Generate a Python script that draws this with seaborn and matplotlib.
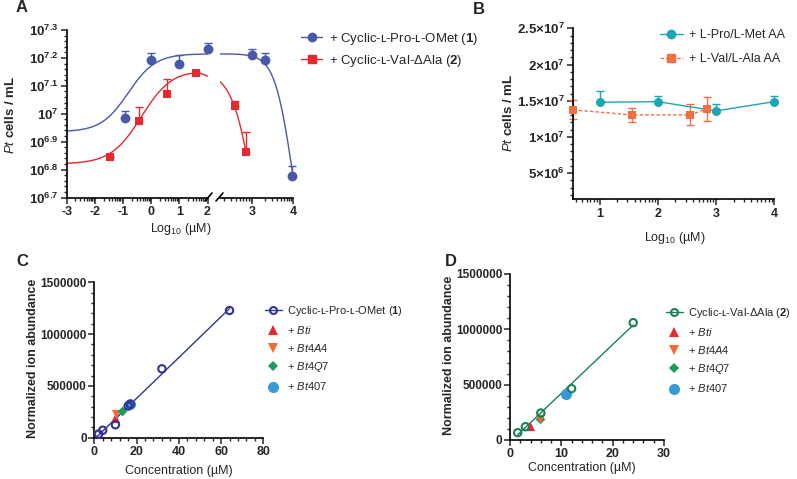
import numpy as np
import pandas as pd
import matplotlib
matplotlib.use('Agg')
import matplotlib.pyplot as plt
from matplotlib.lines import Line2D
from matplotlib.ticker import FixedLocator, NullFormatter
import seaborn as sns

sns.set_style('ticks')
plt.rcParams['font.family'] = ['Liberation Sans', 'DejaVu Sans']
plt.rcParams['mathtext.fontset'] = 'custom'
plt.rcParams['mathtext.rm'] = 'Liberation Sans'
plt.rcParams['mathtext.it'] = 'Liberation Sans:italic'
plt.rcParams['mathtext.bf'] = 'Liberation Sans:bold'
plt.rcParams['axes.linewidth'] = 1.2
plt.rcParams['axes.edgecolor'] = 'black'

# ---------------- data ----------------
# A: log10 concentration (uM) vs log10(Pt cells / mL), upper SD in log units
a1_x = [-0.95, 0.0, 1.0, 2.0, 3.0, 3.31, 3.97]
a1_y = [6.985, 7.193, 7.177, 7.232, 7.209, 7.193, 6.777]
a1_err = [0.025, 0.026, 0.033, 0.020, 0.022, 0.024, 0.036]
a2_x = [-1.46, -0.44, 0.56, 1.58, 2.56, 2.85]
a2_y = [6.844, 6.975, 7.070, 7.145, 7.027, 6.862]
a2_err = [0.004, 0.048, 0.053, 0.004, 0.020, 0.072]
# bell-shaped fits (bottom, top, logEC50 up, hill up, floor, logEC50 down, hill down)
a1_fit = (6.935, 7.215, -0.82, 0.9, 6.4, 3.97, 2.0)
a2_fit = (6.82, 7.16, -0.35, 0.8, 6.0, 3.15, 1.5)
a1_label = '+ Cyclic-ʟ-Pro-ʟ-OMet ($\\mathbf{1}$)'
a2_label = '+ Cyclic-ʟ-Val-ΔAla ($\\mathbf{2}$)'

# B: amino acid controls
b1_x = [1.0, 2.0, 3.0, 4.0]
b1_y = [1.479e7, 1.488e7, 1.36e7, 1.488e7]
b1_err = [1.6e6, 0.83e6, 0.92e6, 0.83e6]
b2_x = [0.55, 1.55, 2.55, 2.85]
b2_y = [1.374e7, 1.305e7, 1.305e7, 1.387e7]
b2_err = [1.3e6, 1.0e6, 1.45e6, 1.65e6]
b_labels = ['+ L-Pro/L-Met AA', '+ L-Val/L-Ala AA']

# C: standard curve compound 1 and culture samples
c_std_x = [2, 4, 10, 16, 17, 32, 64]
c_std_y = [35000, 72000, 125000, 305000, 322000, 665000, 1228000]
c_smp_x = [10.0, 10.5, 13.0, 17.0]
c_smp_y = [190000, 230000, 255000, 325000]
c_std_label = 'Cyclic-ʟ-Pro-ʟ-OMet ($\\mathbf{1}$)'

# D: standard curve compound 2 and culture samples
d_std_x = [1.5, 3, 6, 12, 24]
d_std_y = [66000, 120000, 244000, 464000, 1060000]
d_smp_x = [3.9, 5.8, 5.8, 11.0]
d_smp_y = [125000, 190000, 190000, 420000]
d_std_label = 'Cyclic-ʟ-Val-ΔAla ($\\mathbf{2}$)'

smp_labels = ['+ $\\mathit{Bti}$', '+ $\\mathit{Bt4A4}$', '+ $\\mathit{Bt4Q7}$', '+ $\\mathit{Bt407}$']
smp_markers = ['^', 'v', 'D', 'o']
smp_sizes = [44, 44, 24, 64]
smp_colors = ['#e8282f', '#f06b38', '#1b9a5c', '#3a9ad8']

blue_a = '#4a58a8'
red_a = '#e8282f'
cyan_b = '#1ea5b4'
orange_b = '#f07043'
navy_c = '#2f3593'
green_d = '#1d7f56'

W, H = 797, 479
fig = plt.figure(figsize=(W / 100, H / 100), dpi=100)


def rect(x0, y0, x1, y1):
    return [x0 / W, 1 - y1 / H, (x1 - x0) / W, (y1 - y0) / H]


def ftext(px, py, s, **kw):
    fig.text(px / W, 1 - py / H, s, **kw)


def bell(x, p):
    b, t, e1, h1, f, e2, h2 = p
    return b + (t - b) / (1 + 10 ** ((e1 - x) * h1)) + (f - t) / (1 + 10 ** ((e2 - x) * h2))


def log_minor(lo, hi):
    out = []
    for d in range(int(np.floor(lo)), int(np.ceil(hi)) + 1):
        for k in range(2, 10):
            v = d + np.log10(k)
            if lo <= v <= hi:
                out.append(v)
    return out


def style(ax, xsize=8.5, ysize=8.5):
    ax.tick_params(which='major', length=4, width=1.1, pad=2)
    ax.tick_params(axis='x', labelsize=xsize)
    ax.tick_params(axis='y', labelsize=ysize)
    ax.tick_params(which='minor', length=2.5, width=1.0)
    for lab in ax.get_xticklabels() + ax.get_yticklabels():
        lab.set_fontweight('bold')


# ---------------- panel A (broken x axis) ----------------
axL = fig.add_axes(rect(67, 30, 207.5, 197.5))
axR = fig.add_axes(rect(220, 30, 293, 197.5), sharey=axL)
for ax, lo, hi in [(axL, -3, 2), (axR, 2.2, 4)]:
    ax.set_yscale('log')
    ax.set_xlim(lo, hi)
    sns.despine(ax=ax)
    for xs, ys, es, fit, col, mk, s, xmax in [
        (a1_x, a1_y, a1_err, a1_fit, blue_a, 'o', 50, 4.0),
        (a2_x, a2_y, a2_err, a2_fit, red_a, 's', 40, 2.85)]:
        xg = np.linspace(lo, min(hi, xmax), 200)
        if xg[-1] > xg[0]:
            ax.plot(xg, 10 ** bell(xg, fit), color=col, lw=1.0, zorder=2)
        sel = [i for i in range(len(xs)) if lo - 0.05 <= xs[i] <= hi + 0.05]
        px = np.array([xs[i] for i in sel])
        py = np.array([ys[i] for i in sel])
        pe = np.array([es[i] for i in sel])
        up = 10 ** (py + pe) - 10 ** py
        ax.errorbar(px, 10 ** py, yerr=[np.zeros_like(up), up], fmt='none',
                    ecolor=col, elinewidth=1, capsize=3, capthick=1, clip_on=False, zorder=3)
        sns.scatterplot(x=px, y=10 ** py, ax=ax, marker=mk, s=s, color=col,
                        edgecolor=col, linewidth=0, clip_on=False, zorder=4)
axL.set_ylim(10 ** 6.7, 10 ** 7.3)
a_major = [6.7, 6.8, 6.9, 7.0, 7.1, 7.2, 7.3]
axL.yaxis.set_major_locator(FixedLocator([10 ** v for v in a_major]))
axL.set_yticklabels(['$\\mathbf{10^{%s}}$' % ('7' if v == 7.0 else '%.1f' % v) for v in a_major])
axL.yaxis.set_minor_locator(FixedLocator([10 ** (6.7 + 0.02 * k) for k in range(31)]))
axL.yaxis.set_minor_formatter(NullFormatter())
axL.set_xticks([-3, -2, -1, 0, 1, 2])
axL.set_xticklabels(['-3', '-2', '-1', '0', '1', '2'])
axL.xaxis.set_minor_locator(FixedLocator(log_minor(-3, 2)))
axR.set_xticks([3, 4])
axR.set_xticklabels(['3', '4'])
axR.xaxis.set_minor_locator(FixedLocator(log_minor(2.2, 4)))
axR.spines['left'].set_visible(False)
axR.tick_params(axis='y', which='both', left=False, labelleft=False)
style(axL, 9, 9.5)
style(axR, 9, 9.5)
for x0 in (205, 216):
    fig.add_artist(Line2D([x0 / W, (x0 + 7) / W], [1 - 201 / H, 1 - 193 / H],
                          transform=fig.transFigure, color='black', lw=1.2))
ftext(11, 115, '$\\mathit{Pt}$ cells / mL', rotation=90, ha='center', va='center',
      fontsize=9.5, fontweight='bold')
ftext(181, 229, 'Log$_{10}$ (µM)', ha='center', va='center', fontsize=9)
a_handles = [Line2D([], [], color=blue_a, marker='o', ms=6, lw=1),
             Line2D([], [], color=red_a, marker='s', ms=5.5, lw=1)]
fig.legend(a_handles, [a1_label, a2_label], loc='upper left',
           bbox_to_anchor=(301 / W, 1 - 31 / H), frameon=False, fontsize=9.5,
           handlelength=1.6, handletextpad=0.5, labelspacing=0.45,
           borderpad=0, borderaxespad=0)

# ---------------- panel B ----------------
axB = fig.add_axes(rect(573.3, 28.3, 774.3, 199.3))
sns.despine(ax=axB)
sns.lineplot(x=b1_x, y=b1_y, ax=axB, color=cyan_b, lw=1, marker='o', ms=6.5,
             mec=cyan_b, mew=0, clip_on=False, zorder=3)
axB.errorbar(b1_x, b1_y, yerr=[np.zeros(len(b1_err)), b1_err], fmt='none', ecolor=cyan_b,
             elinewidth=1, capsize=3, capthick=1, clip_on=False)
sns.lineplot(x=b2_x, y=b2_y, ax=axB, color=orange_b, lw=1, ls=(0, (2.5, 1.5)), marker='s',
             ms=6, mec=orange_b, mew=0, clip_on=False, zorder=4)
axB.errorbar(b2_x, b2_y, yerr=b2_err, fmt='none', ecolor=orange_b,
             elinewidth=1, capsize=3, capthick=1, clip_on=False)
axB.set_xlim(0.55, 4)
axB.set_ylim(1.4e6, 2.5e7)
axB.set_xticks([1, 2, 3, 4])
axB.set_xticklabels(['1', '2', '3', '4'])
axB.xaxis.set_minor_locator(FixedLocator(log_minor(0.55, 4)))
b_ticks = [5e6, 1e7, 1.5e7, 2e7, 2.5e7]
axB.set_yticks(b_ticks)
axB.set_yticklabels(['$\\mathbf{5{\\times}10^{6}}$', '$\\mathbf{1{\\times}10^{7}}$',
                     '$\\mathbf{1.5{\\times}10^{7}}$', '$\\mathbf{2{\\times}10^{7}}$',
                     '$\\mathbf{2.5{\\times}10^{7}}$'])
axB.yaxis.set_minor_locator(FixedLocator(np.arange(2e6, 2.5e7, 1e6)))
style(axB, 9, 9.5)
ftext(508, 113, '$\\mathit{Pt}$ cells / mL', rotation=90, ha='center', va='center',
      fontsize=9.5, fontweight='bold')
ftext(675, 238, 'Log$_{10}$ (µM)', ha='center', va='center', fontsize=9)
b_handles = [Line2D([], [], color=cyan_b, marker='o', ms=6, lw=1),
             Line2D([], [], color=orange_b, marker='s', ms=5.5, lw=1, ls=(0, (2.5, 1.5)))]
axB.legend(b_handles, b_labels, loc='upper left', bbox_to_anchor=(660 / W, 1 - 29 / H),
           bbox_transform=fig.transFigure, frameon=False, fontsize=9,
           handlelength=1.8, handletextpad=0.5, labelspacing=1.0,
           borderpad=0, borderaxespad=0)


# ---------------- panels C & D ----------------
def std_panel(box, sx, sy, smx, smy, col, xlim, xmaj, xmin_step, line_from, label,
              leg_anchor, ylab_px, xlab_px, smp_z):
    ax = fig.add_axes(rect(*box))
    sns.despine(ax=ax)
    slope, icpt = np.polyfit(sx, sy, 1)
    xl = np.array([line_from, max(sx)])
    sns.lineplot(x=xl, y=slope * xl + icpt, ax=ax, color=col, lw=1, zorder=2)
    for x, y, mk, s, c, z in zip(smx, smy, smp_markers, smp_sizes, smp_colors, smp_z):
        sns.scatterplot(x=[x], y=[y], ax=ax, marker=mk, s=s, color=c, edgecolor=c,
                        linewidth=0, zorder=z, clip_on=False)
    ax.scatter(sx, sy, s=28, facecolors='none', edgecolors=col, linewidths=1.5,
               zorder=5, clip_on=False)
    ax.set_xlim(*xlim)
    ax.set_ylim(0, 1500000)
    ax.set_xticks(xmaj)
    ax.set_xticklabels([str(v) for v in xmaj])
    ax.xaxis.set_minor_locator(FixedLocator(np.arange(0, xlim[1] + 0.1, xmin_step)))
    ax.set_yticks([0, 500000, 1000000, 1500000])
    ax.set_yticklabels(['0', '500000', '1000000', '1500000'])
    ax.yaxis.set_minor_locator(FixedLocator(np.arange(0, 1500001, 100000)))
    style(ax, 9, 8.5)
    ax.tick_params(axis='y', pad=1.5)
    ftext(ylab_px[0], ylab_px[1], 'Normalized ion abundance', rotation=90, ha='center',
          va='center', fontsize=9, fontweight='bold')
    ftext(xlab_px[0], xlab_px[1], 'Concentration (µM)', ha='center', va='center', fontsize=9)
    handles = [Line2D([], [], color=col, marker='o', mfc='none', mec=col, mew=1.5, ms=5, lw=1)]
    for mk, s, c in zip(smp_markers, smp_sizes, smp_colors):
        handles.append(Line2D([], [], ls='none', marker=mk, ms=np.sqrt(s), color=c, mew=0))
    ax.legend(handles, [label] + smp_labels, loc='upper left',
              bbox_to_anchor=(leg_anchor[0] / W, 1 - leg_anchor[1] / H),
              bbox_transform=fig.transFigure, frameon=False, fontsize=8,
              handlelength=1.5, handletextpad=0.5, labelspacing=0.55,
              borderpad=0, borderaxespad=0)
    return ax


std_panel((94.3, 282.3, 263.3, 437.7), c_std_x, c_std_y, c_smp_x, c_smp_y, navy_c,
          (0, 80), [0, 20, 40, 60, 80], 4, 0, c_std_label, (265, 304), (33, 358), (179, 471),
          [3, 3.1, 3.2, 3.3])
std_panel((510, 274, 664, 440), d_std_x, d_std_y, d_smp_x, d_smp_y, green_d,
          (0, 30), [0, 10, 20, 30], 2, 1.5, d_std_label, (666, 306), (449, 355), (582, 468),
          [3, 3.2, 3.1, 3.3])

# panel letters
for px, py, s in [(22, 8, 'A'), (479, 9, 'B'), (22, 262, 'C'), (451, 262, 'D')]:
    ftext(px, py, s, ha='center', va='center', fontsize=12, fontweight='bold')

fig.savefig('out.png', dpi=100)
